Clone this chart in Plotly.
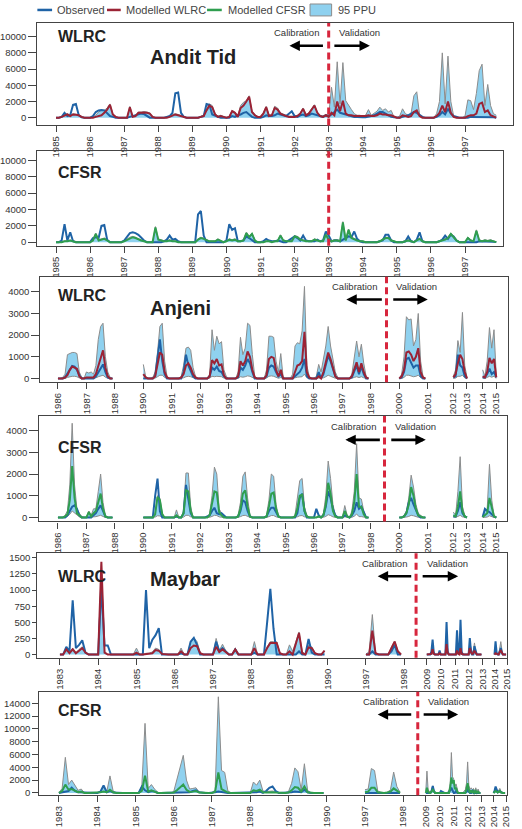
import plotly.graph_objects as go

W, H = 522, 829
FONT = "Liberation Sans, Arial, sans-serif"
C_OBS = "#1f63a6"
C_WLRC = "#9b2335"
C_CFSR = "#2f9e4f"
C_PPU = "#8fd1ef"
C_PPU_LINE = "#8c8c8c"
C_SPLIT = "#d7263d"
C_AX = "#444444"
C_TXT = "#333333"

# ------------------------------------------------------------------ DATA
# ---------- Andit Tid, monthly Jan 1985 - Dec 1997
at_years = list(range(1985, 1998))
at_wlrc_obs = [
    0, 0, 100, 600, 200, 300, 1600, 1700, 300, 50, 0, 0,
    0, 200, 700, 900, 950, 900, 500, 200, 100, 0, 0, 0,
    0, 0, 100, 200, 300, 450, 500, 450, 200, 0, 0, 0,
    0, 0, 0, 100, 200, 600, 3000, 3100, 600, 100, 0, 0,
    0, 0, 0, 100, 200, 1700, 1600, 400, 200, 100, 0, 0,
    0, 0, 200, 100, 300, 400, 600, 700, 400, 100, 0, 0,
    0, 100, 300, 200, 200, 300, 500, 400, 300, 200, 500, 800,
    200, 100, 300, 400, 200, 300, 500, 400, 300, 200, 100, 300,
    200, 400, 700, 1000, 600, 500, 400, 300, 200, 100, 100, 50,
    50, 50, 100, 200, 300, 500, 700, 700, 500, 200, 100, 50,
    0, 0, 100, 200, 300, 500, 700, 600, 300, 100, 0, 0,
    0, 0, 100, 300, 700, 400, 1100, 500, 200, 100, 0, 0,
    0, 0, 100, 100, 100, 100, 100, 100, 100, 100, 50, 0]
at_wlrc_mod = [
    0, 0, 100, 300, 400, 200, 400, 350, 300, 100, 0, 0,
    0, 0, 100, 200, 300, 600, 1000, 1600, 400, 100, 0, 0,
    0, 0, 1300, 100, 200, 600, 600, 650, 600, 500, 100, 0,
    0, 0, 0, 0, 100, 300, 400, 300, 200, 100, 0, 0,
    0, 0, 0, 100, 200, 900, 1500, 1300, 400, 100, 200, 100,
    0, 100, 800, 600, 100, 1200, 1500, 2000, 2600, 700, 300, 100,
    100, 500, 1300, 200, 300, 1200, 1000, 500, 300, 200, 100, 100,
    100, 200, 500, 1100, 300, 500, 1000, 1500, 600, 200, 100, 300,
    100, 600, 300, 2000, 800, 2100, 500, 300, 300, 200, 200, 200,
    200, 200, 300, 200, 200, 300, 500, 400, 400, 300, 300, 100,
    0, 0, 300, 200, 100, 200, 700, 900, 200, 0, 0, 0,
    0, 0, 200, 600, 1500, 700, 2000, 600, 100, 0, 0, 0,
    0, 200, 300, 300, 500, 1700, 1850, 700, 900, 300, 100, 0]
at_wlrc_ppu_hi = [
    0, 0, 150, 400, 500, 300, 500, 450, 350, 150, 0, 0,
    0, 100, 300, 700, 900, 900, 1200, 1700, 500, 150, 0, 0,
    0, 0, 1400, 200, 300, 700, 700, 750, 700, 600, 150, 0,
    0, 0, 0, 100, 200, 400, 500, 400, 300, 150, 0, 0,
    0, 0, 0, 200, 300, 1100, 1700, 1500, 500, 200, 300, 150,
    0, 200, 900, 700, 300, 1500, 1900, 2100, 2700, 800, 400, 150,
    150, 600, 1400, 300, 400, 1400, 1200, 600, 400, 300, 200, 200,
    200, 300, 600, 1200, 400, 600, 1100, 1600, 700, 300, 200, 400,
    300, 3750, 1300, 6900, 1700, 6800, 2100, 1500, 1000, 500, 300, 300,
    200, 300, 1000, 300, 500, 800, 1300, 900, 1100, 700, 900, 100,
    0, 200, 1100, 500, 300, 500, 2700, 3200, 400, 100, 0, 0,
    0, 0, 500, 2000, 8000, 1700, 7600, 2000, 200, 0, 0, 0,
    200, 2200, 2100, 1000, 3000, 5800, 6600, 1500, 4100, 1500, 500, 300]
at_cfsr_obs = [
    0, 0, 200, 2200, 200, 1200, 100, 0, 0, 0, 0, 0,
    0, 500, 600, 500, 2000, 2100, 300, 0, 0, 0, 0, 0,
    200, 700, 1100, 1200, 1100, 900, 500, 200, 0, 0, 0, 0,
    0, 0, 100, 300, 800, 300, 400, 100, 0, 0, 0, 0,
    0, 0, 3400, 3800, 800, 0, 0, 0, 0, 0, 0, 0,
    200, 2200, 1500, 1700, 100, 100, 200, 700, 500, 200, 0, 0,
    0, 100, 400, 200, 100, 100, 200, 100, 0, 0, 200, 500,
    700, 500, 200, 800, 200, 100, 100, 100, 300, 100, 200, 1300,
    800, 100, 200, 200, 100, 300, 400, 700, 600, 1300, 400, 100,
    0, 0, 0, 0, 0, 0, 100, 200, 900, 900, 200, 0,
    0, 0, 0, 100, 700, 100, 0, 300, 1200, 100, 0, 0,
    0, 0, 0, 100, 300, 800, 400, 900, 700, 200, 0, 0,
    0, 0, 0, 0, 0, 100, 100, 100, 100, 100, 50, 0]
at_cfsr_mod = [
    0, 0, 0, 100, 100, 200, 100, 0, 0, 0, 0, 0,
    0, 200, 1000, 200, 300, 400, 200, 0, 0, 0, 0, 0,
    100, 300, 500, 600, 500, 300, 200, 100, 0, 0, 0, 1800,
    300, 200, 100, 100, 200, 100, 100, 0, 0, 0, 0, 0,
    0, 0, 300, 500, 400, 200, 100, 100, 100, 300, 100, 0,
    100, 300, 200, 300, 100, 100, 200, 1100, 600, 1000, 200, 0,
    0, 0, 100, 100, 0, 100, 100, 800, 200, 100, 100, 100,
    700, 600, 300, 200, 100, 100, 100, 300, 200, 100, 100, 900,
    300, 100, 200, 200, 100, 2400, 200, 1500, 500, 300, 200, 100,
    100, 0, 0, 0, 0, 0, 100, 300, 500, 500, 200, 100,
    0, 0, 0, 100, 200, 100, 0, 200, 400, 100, 0, 0,
    0, 0, 0, 100, 200, 300, 500, 1000, 600, 200, 0, 0,
    0, 500, 200, 100, 1400, 200, 100, 200, 150, 200, 100, 0]
at_cfsr_ppu_hi = [
    0, 0, 50, 150, 150, 250, 150, 50, 0, 0, 0, 0,
    0, 300, 1100, 300, 400, 500, 300, 50, 0, 0, 0, 0,
    150, 400, 600, 700, 600, 400, 300, 150, 0, 0, 0, 1900,
    400, 300, 150, 150, 300, 150, 150, 50, 0, 0, 0, 0,
    0, 50, 400, 600, 500, 300, 150, 150, 150, 400, 150, 0,
    150, 400, 300, 400, 150, 150, 300, 1200, 700, 1100, 300, 0,
    0, 50, 150, 150, 50, 150, 150, 900, 300, 150, 150, 150,
    800, 700, 400, 300, 150, 150, 150, 400, 300, 150, 150, 1000,
    400, 150, 300, 300, 200, 2500, 300, 1600, 600, 400, 300, 150,
    150, 50, 0, 0, 50, 50, 150, 400, 600, 600, 300, 150,
    0, 0, 50, 150, 300, 150, 50, 300, 500, 150, 50, 0,
    0, 0, 50, 150, 300, 400, 600, 1100, 700, 300, 50, 0,
    50, 600, 300, 150, 1500, 300, 150, 300, 200, 300, 150, 50]

# ---------- Anjeni (broken time axis: 1986-87, 1990-97, 2000, 2012, 2014)
anj_tick_years = ["1986", "1987", "1988", "1990", "1991", "1992", "1993", "1994",
                  "1995", "1996", "1997", "1998", "2000", "2001", "2012", "2013",
                  "2014", "2015"]
anj_wlrc_obs = [
    0, 0, 0, 50, 200, 400, 580, 550, 400, 150, 0, 0,
    0, 0, 0, 0, 100, 300, 500, 650, 300, 50, 0, 0,
    0, 0, 0, 0, 0, 100, 1000, 1800, 800, 200, 0, 0,
    0, 0, 0, 0, 0, 300, 1100, 600, 300, 100, 0, 0,
    0, 0, 0, 0, 100, 500, 400, 550, 350, 300, 100, 0,
    0, 0, 0, 0, 50, 500, 400, 600, 900, 700, 300, 0,
    0, 0, 0, 0, 100, 500, 600, 550, 300, 100, 200, 0,
    0, 0, 0, 0, 100, 200, 300, 500, 900, 100, 0, 0,
    0, 0, 300, 0, 200, 600, 1050, 800, 400, 100, 0, 0,
    0, 0, 0, 0, 50, 300, 600, 200, 550, 200, 0, 0,
    0, 50, 300, 900, 950, 700, 500, 600, 600, 100, 0, 0,
    50, 100, 1100, 600, 500, 100, 0,
    50, 50, 200, 450, 200, 300, 50]
anj_wlrc_mod = [
    0, 0, 0, 50, 150, 400, 550, 500, 450, 100, 0, 0,
    50, 50, 50, 50, 200, 600, 1000, 1300, 500, 100, 0, 0,
    200, 50, 0, 0, 0, 100, 600, 1200, 1100, 300, 50, 0,
    0, 0, 0, 0, 50, 200, 600, 700, 500, 200, 50, 0,
    0, 0, 0, 0, 100, 850, 700, 900, 600, 650, 150, 0,
    0, 0, 0, 0, 100, 800, 600, 800, 1250, 1000, 400, 50,
    0, 0, 0, 0, 150, 900, 1000, 950, 400, 100, 400, 0,
    0, 0, 0, 0, 300, 600, 650, 800, 2150, 300, 50, 0,
    0, 0, 100, 0, 300, 700, 1200, 900, 500, 100, 0, 0,
    0, 0, 0, 0, 100, 400, 750, 300, 700, 300, 50, 0,
    0, 100, 400, 1200, 1250, 1100, 800, 1000, 1400, 300, 50, 0,
    50, 200, 700, 1100, 900, 300, 0,
    100, 50, 300, 950, 700, 900, 50]
anj_wlrc_ppu_hi = [
    0, 0, 50, 200, 1100, 1150, 1200, 1200, 1150, 300, 50, 0,
    300, 250, 300, 200, 600, 1800, 2400, 2550, 1000, 300, 50, 0,
    650, 100, 0, 0, 50, 300, 1200, 2400, 2550, 800, 100, 0,
    0, 0, 0, 0, 100, 600, 1400, 1450, 1300, 500, 100, 0,
    0, 0, 0, 0, 200, 2250, 1300, 1950, 1600, 1700, 400, 100,
    0, 0, 0, 0, 300, 1900, 1100, 1400, 2550, 2450, 1100, 100,
    0, 0, 0, 0, 400, 1950, 1950, 1900, 800, 300, 1150, 50,
    0, 0, 0, 200, 1500, 1650, 1600, 2200, 4250, 600, 100, 0,
    0, 100, 650, 300, 900, 1500, 2400, 1500, 900, 300, 50, 0,
    0, 0, 0, 0, 200, 1000, 1730, 1000, 1580, 700, 100, 0,
    0, 200, 1000, 2850, 2700, 2750, 1500, 1800, 3000, 800, 100, 0,
    100, 400, 1750, 1200, 3050, 600, 50,
    400, 100, 800, 2350, 1400, 2250, 100]
anj_wlrc_ppu_lo = [
    0, 0, 0, 0, 50, 80, 100, 100, 80, 20, 0, 0,
    0, 0, 0, 0, 30, 80, 120, 150, 60, 10, 0, 0,
    0, 0, 0, 0, 0, 20, 80, 150, 150, 50, 0, 0,
    0, 0, 0, 0, 0, 30, 80, 100, 80, 30, 0, 0,
    0, 0, 0, 0, 10, 100, 80, 100, 80, 80, 20, 0,
    0, 0, 0, 0, 10, 80, 60, 80, 120, 100, 40, 0,
    0, 0, 0, 0, 20, 100, 120, 100, 50, 10, 40, 0,
    0, 0, 0, 0, 30, 60, 60, 80, 200, 30, 0, 0,
    0, 0, 20, 0, 30, 80, 150, 100, 50, 10, 0, 0,
    0, 0, 0, 0, 10, 50, 80, 40, 80, 30, 0, 0,
    0, 0, 50, 150, 150, 120, 80, 100, 150, 40, 0, 0,
    0, 20, 100, 100, 150, 30, 0,
    20, 0, 50, 100, 60, 100, 0]
anj_cfsr_obs = [
    0, 0, 0, 0, 100, 300, 500, 560, 400, 100, 0, 0,
    0, 0, 0, 100, 200, 400, 560, 300, 50, 0, 0, 0,
    0, 0, 0, 0, 0, 1000, 1790, 300, 0, 0, 0, 0,
    0, 0, 50, 0, 0, 200, 1500, 900, 200, 0, 0, 0,
    0, 0, 0, 50, 100, 300, 450, 200, 150, 200, 100, 0,
    0, 0, 0, 0, 50, 300, 800, 700, 300, 50, 0, 0,
    0, 0, 0, 0, 50, 300, 450, 450, 250, 50, 0, 0,
    0, 0, 0, 0, 0, 200, 900, 1100, 300, 0, 0, 0,
    0, 400, 100, 0, 100, 500, 1200, 900, 400, 100, 0, 0,
    0, 100, 50, 0, 100, 300, 700, 400, 500, 200, 0, 0,
    0, 0, 50, 200, 700, 900, 600, 300, 100, 0, 0, 0,
    50, 50, 300, 700, 200, 50, 0,
    20, 400, 300, 250, 150, 50, 0]
anj_cfsr_mod = [
    0, 0, 0, 50, 150, 800, 2370, 900, 200, 100, 0, 0,
    0, 250, 50, 200, 300, 700, 1100, 400, 50, 0, 0, 0,
    0, 0, 0, 0, 0, 150, 950, 800, 150, 0, 0, 0,
    0, 0, 100, 0, 0, 200, 1250, 1200, 300, 0, 0, 0,
    0, 0, 0, 0, 100, 600, 1200, 1150, 250, 100, 0, 0,
    0, 0, 0, 0, 50, 400, 1100, 1250, 500, 50, 0, 0,
    0, 0, 0, 0, 50, 500, 1100, 1150, 400, 50, 0, 0,
    0, 0, 0, 0, 50, 400, 1000, 1050, 300, 50, 0, 0,
    0, 0, 50, 0, 100, 600, 1600, 1100, 300, 50, 0, 0,
    0, 300, 50, 0, 150, 700, 2000, 500, 500, 150, 0, 0,
    0, 0, 50, 200, 600, 1400, 1000, 400, 100, 50, 0, 0,
    100, 50, 500, 1200, 300, 50, 0,
    20, 100, 200, 900, 400, 50, 0]
anj_cfsr_ppu_hi = [
    0, 0, 0, 100, 300, 1500, 4340, 1500, 400, 200, 50, 0,
    0, 300, 100, 400, 400, 1200, 2000, 700, 100, 0, 0, 0,
    0, 0, 0, 0, 0, 200, 1000, 900, 200, 0, 0, 0,
    0, 0, 350, 0, 0, 300, 2050, 2050, 500, 0, 0, 0,
    0, 0, 0, 0, 200, 1000, 2320, 2000, 400, 200, 0, 0,
    0, 0, 0, 0, 100, 700, 1900, 2100, 900, 100, 0, 0,
    0, 0, 0, 0, 100, 800, 2000, 1900, 600, 100, 0, 0,
    0, 0, 0, 0, 100, 800, 1700, 1800, 500, 100, 0, 0,
    0, 0, 100, 0, 200, 1000, 2600, 1800, 600, 100, 0, 0,
    0, 550, 100, 0, 300, 1200, 3400, 900, 850, 300, 0, 0,
    0, 0, 100, 300, 900, 1950, 1400, 600, 200, 100, 0, 0,
    250, 100, 1200, 2800, 500, 100, 0,
    50, 300, 400, 2450, 800, 100, 0]
anj_cfsr_ppu_lo = [
    0, 0, 0, 0, 50, 150, 300, 200, 100, 30, 0, 0,
    0, 30, 0, 30, 40, 80, 100, 50, 0, 0, 0, 0,
    0, 0, 0, 0, 0, 20, 80, 70, 20, 0, 0, 0,
    0, 0, 30, 0, 0, 20, 100, 100, 30, 0, 0, 0,
    0, 0, 0, 0, 10, 50, 100, 90, 30, 10, 0, 0,
    0, 0, 0, 0, 10, 40, 90, 100, 40, 10, 0, 0,
    0, 0, 0, 0, 10, 40, 90, 90, 30, 10, 0, 0,
    0, 0, 0, 0, 10, 30, 80, 90, 30, 10, 0, 0,
    0, 0, 10, 0, 10, 50, 130, 90, 30, 10, 0, 0,
    0, 30, 10, 0, 10, 60, 160, 40, 40, 10, 0, 0,
    0, 0, 10, 20, 50, 100, 80, 30, 10, 0, 0, 0,
    20, 10, 50, 100, 30, 10, 0,
    0, 20, 20, 80, 30, 0, 0]

# ---------- Maybar (broken time axis: 1983-89, 1997, 2009-12, 2014)
may_tick_years = ["1983", "1984", "1985", "1986", "1987", "1988", "1989", "1990",
                  "1997", "1998", "2009", "2010", "2011", "2012", "2013", "2014", "2015"]
may_wlrc_obs = [
    0, 0, 120, 50, 840, 100, 150, 220, 30, 0, 0, 0,
    0, 1050, 140, 140, 0, 0, 0, 0, 0, 0, 0, 0,
    0, 0, 0, 1000, 100, 230, 300, 410, 0, 0, 0, 0,
    0, 0, 20, 0, 0, 200, 260, 150, 0, 0, 0, 0,
    0, 200, 50, 100, 50, 0, 0, 80, 0, 0, 0, 0,
    0, 30, 0, 0, 0, 500, 1020, 400, 0, 0, 0, 0,
    0, 0, 0, 50, 0, 0, 240, 30, 0, 0, 0, 0,
    0, 0, 50, 0, 0, 0, 0, 0, 50, 150, 0, 0,
    0, 0, 0, 0, 50, 230, 30, 0, 0, 0, 0, 60,
    0, 0, 0, 0, 0, 505, 50, 0, 0, 0, 0, 0,
    0, 0, 375, 30, 0, 540, 40, 0, 0, 0, 0, 0,
    0, 255, 50, 0, 0, 130, 40, 0, 0, 0, 0, 0,
    0, 205, 30, 0, 0, 50, 100, 30, 0, 0, 0, 0]
may_wlrc_mod = [
    0, 0, 80, 20, 80, 20, 60, 100, 30, 0, 0, 0,
    0, 1440, 30, 0, 0, 0, 0, 0, 0, 0, 0, 0,
    30, 0, 0, 10, 10, 20, 70, 60, 10, 0, 0, 0,
    0, 0, 50, 0, 0, 100, 140, 130, 20, 0, 0, 0,
    0, 120, 40, 80, 40, 0, 0, 80, 0, 0, 0, 0,
    0, 100, 0, 0, 0, 100, 180, 180, 180, 20, 0, 0,
    50, 0, 150, 335, 20, 0, 110, 100, 20, 0, 0, 60,
    0, 0, 370, 20, 0, 0, 0, 0, 100, 200, 50, 0,
    0, 0, 0, 0, 10, 80, 10, 0, 0, 0, 0, 20,
    0, 0, 0, 0, 0, 160, 20, 0, 0, 0, 0, 0,
    0, 0, 60, 10, 0, 100, 10, 0, 0, 0, 0, 0,
    0, 100, 30, 10, 20, 60, 20, 0, 0, 0, 0, 0,
    0, 20, 10, 0, 0, 40, 60, 30, 0, 0, 0, 0]
may_wlrc_ppu_hi = [
    0, 0, 100, 30, 100, 30, 80, 120, 40, 0, 0, 0,
    0, 1400, 50, 0, 0, 0, 0, 0, 0, 0, 0, 0,
    100, 0, 0, 20, 20, 40, 100, 80, 20, 0, 0, 0,
    0, 0, 100, 0, 0, 200, 260, 200, 30, 0, 0, 0,
    0, 250, 60, 160, 60, 0, 0, 100, 0, 0, 0, 0,
    0, 200, 0, 0, 0, 120, 200, 200, 200, 30, 0, 0,
    150, 50, 200, 350, 50, 0, 150, 120, 30, 0, 0, 60,
    0, 50, 620, 30, 0, 0, 0, 0, 120, 210, 60, 0,
    0, 0, 0, 0, 20, 150, 20, 0, 0, 0, 0, 40,
    0, 0, 0, 0, 0, 200, 40, 0, 0, 0, 0, 0,
    0, 0, 100, 20, 0, 150, 20, 0, 0, 0, 0, 0,
    0, 180, 80, 40, 60, 180, 60, 0, 0, 0, 0, 0,
    0, 50, 20, 0, 0, 120, 200, 80, 0, 0, 0, 0]
may_cfsr_obs = [
    0, 100, 200, 300, 800, 300, 100, 100, 0, 0, 0, 0,
    0, 200, 1150, 100, 300, 50, 0, 0, 0, 0, 0, 0,
    0, 0, 1000, 400, 100, 300, 200, 0, 0, 0, 0, 0,
    0, 0, 0, 100, 100, 100, 300, 400, 100, 0, 0, 0,
    0, 100, 200, 100, 100, 0, 0, 0, 0, 0, 0, 0,
    0, 100, 100, 200, 0, 300, 800, 1000, 300, 0, 0, 0,
    0, 100, 200, 200, 100, 500, 100, 0, 0, 0, 0, 0,
    0, 0, 100, 100, 0, 0, 0, 0, 50, 100, 50, 0,
    0, 0, 0, 0, 0, 300, 1100, 300, 0, 0, 0, 0,
    0, 300, 200, 0, 0, 0, 0, 0, 200, 400, 800, 300,
    0, 0, 300, 0, 0, 0, 0, 0, 0, 0, 0, 200,
    500, 200, 0, 0, 300, 0, 200, 0, 0, 0, 0, 0,
    0, 300, 1000, 500, 100, 200, 300, 100, 0, 0, 0, 0]
may_cfsr_mod = [
    0, 300, 1300, 500, 600, 300, 100, 200, 0, 0, 0, 0,
    0, 100, 200, 100, 500, 100, 0, 0, 0, 0, 0, 0,
    0, 0, 300, 2700, 200, 400, 200, 0, 0, 0, 0, 0,
    50, 400, 800, 1300, 500, 150, 200, 300, 50, 0, 0, 0,
    0, 200, 3200, 600, 300, 50, 0, 0, 0, 0, 0, 0,
    0, 400, 300, 500, 100, 50, 100, 100, 50, 0, 0, 0,
    50, 400, 900, 800, 200, 1000, 100, 0, 0, 0, 0, 0,
    100, 200, 800, 800, 100, 0, 0, 50, 200, 700, 300, 0,
    0, 800, 200, 0, 0, 300, 500, 200, 0, 0, 0, 0,
    0, 0, 0, 0, 0, 0, 0, 0, 0, 800, 2400, 1500,
    2000, 600, 800, 200, 0, 0, 0, 0, 0, 0, 0, 600,
    1500, 500, 0, 400, 0, 300, 0, 300, 0, 200, 0, 0,
    0, 100, 300, 200, 50, 150, 300, 100, 0, 0, 0, 0]
may_cfsr_ppu_hi = [
    0, 700, 5550, 1300, 2000, 1200, 400, 600, 0, 0, 0, 0,
    0, 300, 1000, 200, 2650, 300, 0, 0, 0, 0, 0, 0,
    0, 0, 1100, 10850, 700, 1300, 600, 100, 0, 0, 0, 0,
    200, 2000, 4000, 5860, 2000, 600, 700, 800, 100, 0, 0, 0,
    0, 500, 15000, 3500, 3200, 300, 0, 0, 0, 0, 0, 0,
    0, 1700, 1200, 2000, 300, 200, 300, 300, 200, 0, 0, 0,
    200, 1500, 3900, 3300, 500, 4550, 400, 0, 0, 0, 0, 0,
    500, 600, 3800, 3500, 300, 100, 50, 100, 500, 3250, 1000, 100,
    200, 3400, 500, 200, 0, 600, 1100, 400, 100, 0, 0, 0,
    0, 300, 200, 0, 0, 0, 0, 0, 500, 1500, 6300, 2500,
    2200, 1000, 1400, 400, 0, 0, 0, 0, 0, 300, 500, 1500,
    4840, 1200, 500, 800, 500, 700, 300, 800, 200, 600, 100, 0,
    0, 300, 900, 600, 200, 400, 700, 300, 100, 0, 0, 0]

# ------------------------------------------------------------ AXIS SCALES
# broken axes: (number of points, axis position of first point, axis step per point)
at_segments = [(156, 1985.0, 1 / 12)]
anj_segments = [(24, 0.0, 1 / 12), (96, 3.0, 1 / 12), (12, 12.0, 1 / 12),
                (7, 13.9, 0.08), (7, 14.93, 0.08)]
anj_tickvals = [0, 1, 2, 3, 4, 5, 6, 7, 8, 9, 10, 11, 12, 13, 13.9, 14.38, 14.93, 15.41]
may_segments = [(84, 0.0, 1 / 12), (12, 8.0, 1 / 12), (48, 9.59, 0.0304), (12, 11.36, 0.0275)]
may_tickvals = [0, 1, 2, 3, 4, 5, 6, 7, 8, 9, 9.59, 9.95, 10.33, 10.69, 11.05, 11.36, 11.69]


def split(values, segments):
    out, k = [], 0
    for n, start, step in segments:
        out.append(([start + i * step for i in range(n)], values[k:k + n]))
        k += n
    return out


def px(x):
    return x / W


def py(y):
    return 1 - y / H


panels = [
    dict(box=(33, 518, 22, 125), segs=at_segments, obs=at_wlrc_obs, mod=at_wlrc_mod,
         hi=at_wlrc_ppu_hi, lo=None, mc=C_WLRC, xr=[1984.453, 1998.41], yr=[-950, 11700],
         yt=list(range(0, 10001, 2000)), xt=(at_years, [str(y) for y in at_years]), split=1993.0, ytl=8),
    dict(box=(33, 508, 151, 246), segs=at_segments, obs=at_cfsr_obs, mod=at_cfsr_mod,
         hi=at_cfsr_ppu_hi, lo=None, mc=C_CFSR, xr=[1984.453, 1998.122], yr=[-450, 11100],
         yt=list(range(0, 10001, 2000)), xt=(at_years, [str(y) for y in at_years]), split=1993.0, ytl=8),
    dict(box=(36, 513, 277, 383), segs=anj_segments, obs=anj_wlrc_obs, mod=anj_wlrc_mod,
         hi=anj_wlrc_ppu_hi, lo=anj_wlrc_ppu_lo, mc=C_WLRC, xr=[-0.621, 15.828], yr=[-170, 4700],
         yt=list(range(0, 4001, 1000)), xt=(anj_tickvals, anj_tick_years), split=11.55, ytl=8),
    dict(box=(35, 512, 417, 523), segs=anj_segments, obs=anj_cfsr_obs, mod=anj_cfsr_mod,
         hi=anj_cfsr_ppu_hi, lo=anj_cfsr_ppu_lo, mc=C_CFSR, xr=[-0.655, 15.793], yr=[-183, 4675],
         yt=list(range(0, 4001, 1000)), xt=(anj_tickvals, anj_tick_years), split=11.48, ytl=9),
    dict(box=(33, 512, 555, 660), segs=may_segments, obs=may_wlrc_obs, mod=may_wlrc_mod,
         hi=may_wlrc_ppu_hi, lo=None, mc=C_WLRC, xr=[-0.590, 11.692], yr=[-51, 1570],
         yt=list(range(0, 1501, 250)), xt=(may_tickvals, may_tick_years), split=9.31, ytl=4),
    dict(box=(35, 512, 694, 798), segs=may_segments, obs=may_cfsr_obs, mod=may_cfsr_mod,
         hi=may_cfsr_ppu_hi, lo=None, mc=C_CFSR, xr=[-0.513, 11.718], yr=[-350, 15800],
         yt=list(range(0, 14001, 2000)), xt=(may_tickvals, may_tick_years), split=9.38, ytl=6),
]

fig = go.Figure()
layout = {}
shapes = []
tickfont = dict(family=FONT, size=9.5, color=C_TXT)

for k, p in enumerate(panels, start=1):
    xname = "x" if k == 1 else f"x{k}"
    yname = "y" if k == 1 else f"y{k}"
    hi_s = split(p["hi"], p["segs"])
    lo_s = split(p["lo"], p["segs"]) if p["lo"] is not None else None
    obs_s = split(p["obs"], p["segs"])
    mod_s = split(p["mod"], p["segs"])
    for j in range(len(p["segs"])):
        xs, hv = hi_s[j]
        if lo_s is not None:
            fig.add_trace(go.Scatter(x=xs, y=lo_s[j][1], mode="lines", xaxis=xname, yaxis=yname,
                                     line=dict(color=C_PPU_LINE, width=1), showlegend=False,
                                     hoverinfo="skip"))
            fill = "tonexty"
        else:
            fill = "tozeroy"
        fig.add_trace(go.Scatter(x=xs, y=hv, mode="lines", xaxis=xname, yaxis=yname, fill=fill,
                                 fillcolor=C_PPU, line=dict(color=C_PPU_LINE, width=1),
                                 showlegend=False, hoverinfo="skip"))
    for j in range(len(p["segs"])):
        xs, ov = obs_s[j]
        fig.add_trace(go.Scatter(x=xs, y=ov, mode="lines", xaxis=xname, yaxis=yname,
                                 line=dict(color=C_OBS, width=2), showlegend=False))
    for j in range(len(p["segs"])):
        xs, mv = mod_s[j]
        fig.add_trace(go.Scatter(x=xs, y=mv, mode="lines", xaxis=xname, yaxis=yname,
                                 line=dict(color=p["mc"], width=2), showlegend=False))

    x0, x1, y0, y1 = p["box"]
    axkey_x = "xaxis" if k == 1 else f"xaxis{k}"
    axkey_y = "yaxis" if k == 1 else f"yaxis{k}"
    common = dict(showline=True, mirror=True, linecolor=C_AX, linewidth=1.2, ticks="outside",
                  tickwidth=1, tickcolor=C_AX, showgrid=False, zeroline=False,
                  tickfont=tickfont, fixedrange=True)
    layout[axkey_x] = dict(common, domain=[px(x0), px(x1)], anchor=yname, range=p["xr"],
                           tickmode="array", tickvals=p["xt"][0], ticktext=p["xt"][1],
                           tickangle=-90, ticklen=6)
    layout[axkey_y] = dict(common, domain=[py(y1), py(y0)], anchor=xname, range=p["yr"],
                           tickmode="array", tickvals=p["yt"], ticktext=[str(v) for v in p["yt"]],
                           ticklen=p["ytl"])
    shapes.append(dict(type="line", xref=xname, yref=f"{yname} domain", x0=p["split"], x1=p["split"],
                       y0=0, y1=1, line=dict(color=C_SPLIT, width=3, dash="7px,4px")))

annotations = []


def text(x, y, s, size, anchor="left", bold=False, color="#222222"):
    annotations.append(dict(xref="paper", yref="paper", x=px(x), y=py(y), text=f"<b>{s}</b>" if bold else s,
                            showarrow=False, xanchor=anchor, yanchor="middle",
                            font=dict(family=FONT, size=size, color=color)))


def arrow(tail, head):
    annotations.append(dict(xref="paper", yref="paper", x=px(head[0]), y=py(head[1]),
                            ax=tail[0] - head[0], ay=tail[1] - head[1], axref="pixel", ayref="pixel",
                            text="", showarrow=True, arrowhead=2, arrowsize=0.8, arrowwidth=2.6,
                            arrowcolor="#000000"))


# panel titles
text(52, 36, "WLRC", 16, bold=True)
text(146, 56, "Andit Tid", 20, bold=True)
text(52, 172, "CFSR", 16, bold=True)
text(52, 296, "WLRC", 16, bold=True)
text(146, 308, "Anjeni", 20, bold=True)
text(52, 449, "CFSR", 16, bold=True)
text(52, 578, "WLRC", 16, bold=True)
text(146, 581, "Maybar", 20, bold=True)
text(52, 713, "CFSR", 16, bold=True)

# calibration / validation markers
for (cx, vx, ty, ly, lt, lh, rt, rh) in [
        (322, 338, 32, 45, 325, 290, 335, 372),
        (381, 397, 287, 300, 385, 348, 395, 431),
        (380, 396, 428, 441, 383, 347, 393, 429),
        (412, 428, 565, 578, 415, 380, 425, 462),
        (413, 429, 704, 717, 415, 380, 426, 462)]:
    text(cx, ty, "Calibration", 9.5, anchor="right", color=C_TXT)
    text(vx, ty, "Validation", 9.5, anchor="left", color=C_TXT)
    arrow((lt, ly), (lh, ly))
    arrow((rt, ly), (rh, ly))

# legend
legend_items = [("line", 33, 48, C_OBS, "Observed", 51),
                ("line", 104, 118, C_WLRC, "Modelled WLRC", 121),
                ("line", 206, 221, C_CFSR, "Modelled CFSR", 225),
                ("box", 311, 333, C_PPU, "95 PPU", 337)]
for kind, a, b, col, label, tx in legend_items:
    if kind == "line":
        shapes.append(dict(type="line", xref="paper", yref="paper", x0=px(a), x1=px(b), y0=py(9), y1=py(9),
                           line=dict(color=col, width=2.5)))
    else:
        shapes.append(dict(type="rect", xref="paper", yref="paper", x0=px(a), x1=px(b), y0=py(15), y1=py(3),
                           fillcolor=col, line=dict(color=C_PPU_LINE, width=1)))
    text(tx, 9, label, 11, color="#444444")

fig.update_layout(width=W, height=H, autosize=False, margin=dict(l=0, r=0, t=0, b=0, pad=0),
                  paper_bgcolor="white", plot_bgcolor="white", showlegend=False,
                  shapes=shapes, annotations=annotations, **layout)

fig.write_html("out.html", config={"displayModeBar": False})
